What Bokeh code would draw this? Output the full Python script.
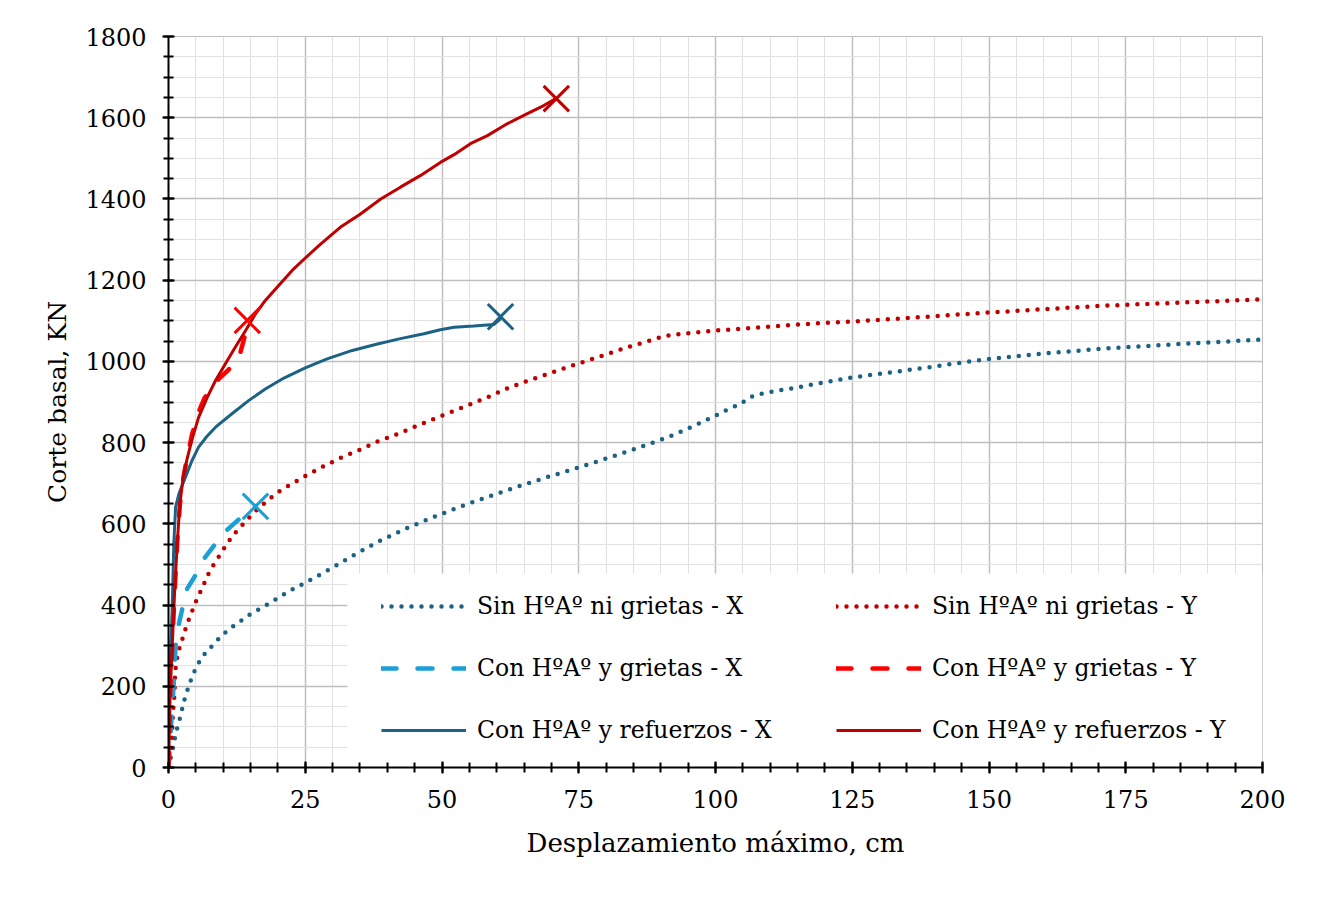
from bokeh.plotting import figure
from bokeh.models import (Range1d, SingleIntervalTicker, Legend, LegendItem,
                          BoxAnnotation)
from bokeh.embed import file_html
from bokeh.resources import INLINE

# Sin HºAº ni grietas - X  (dotted, dark blue)
sx_x = [0, 0.5, 1, 1.3, 1.8, 2.3, 2.7, 3.2, 3.8, 4.4, 5.2, 6.1, 7.4, 8.6, 9.9,
        11.3, 12.9, 14.4, 15.9, 17.5, 19.1, 20.8, 22.3, 24, 28.8, 33.6, 38.5,
        43.5, 48.7, 53.9, 59.1, 64.4, 69.7, 75, 80.3, 85.6, 89.2, 92.7, 96,
        99.5, 102.7, 104.6, 106, 107.7, 111.3, 115.1, 118.8, 124.3, 129.8,
        135.4, 140.9, 146.4, 150.2, 155.8, 161.3, 166.9, 172.5, 178, 183.6,
        189.3, 194.9, 200]
sx_y = [0, 30, 58, 83, 107, 132, 157, 180, 204, 227, 250, 272, 291, 309, 327,
        343, 358, 373, 385, 397, 410, 424, 436, 448, 483, 521, 557, 589, 618,
        645, 670, 694, 717, 739, 762, 786, 803, 821, 841, 863, 885, 895, 910,
        918, 928, 936, 946, 959, 969, 979, 989, 1000, 1006, 1014, 1021, 1027,
        1033, 1037, 1042, 1046, 1050, 1054]

# Sin HºAº ni grietas - Y  (dotted, dark red)
sy_x = [0, 0.2, 0.67, 0.8, 1.1, 1.2, 1.7, 2.3, 3.4, 4.1, 4.75, 5.5, 6.3, 7.0,
        7.9, 8.85, 9.9, 10.9, 12, 13.2, 14.5, 15.9, 17.3, 18.6, 20, 21.7, 24.9,
        28.1, 31.4, 34.9, 38.3, 41.7, 45.2, 48.6, 52, 55.5, 58.9, 62.3, 65.9,
        70, 75, 80, 83.5, 87, 90.6, 92.5, 96.2, 100, 105.4, 112.9, 120.4, 126,
        133.3, 140.8, 148.3, 155.8, 163.2, 170.7, 176.2, 182, 189.3, 194.9, 200]
sy_y = [0, 10, 83, 132, 181, 235, 281, 306, 354, 377, 401, 423, 446, 469, 492,
        512, 534, 555, 575, 593, 612, 631, 648, 663, 678, 692, 717, 740, 762,
        782, 803, 820, 840, 859, 877, 896, 915, 936, 953, 972, 995, 1017, 1033,
        1047, 1062, 1066, 1071, 1076, 1081, 1089, 1095, 1099, 1105, 1112, 1119,
        1125, 1131, 1137, 1140, 1143, 1147, 1150, 1153]

# Con HºAº y grietas - X  (dashed, light blue)
gx_x = [0, 0.5, 1, 1.3, 1.9, 2.6, 3.4, 5.1, 6.6, 8.6, 10.6, 13.2, 15.9]
gx_y = [0, 110, 215, 300, 354, 395, 440, 477, 516, 551, 584, 615, 643]

# Con HºAº y grietas - Y  (dashed, red)
gy_x = [0, 0.3, 0.7, 1.1, 1.6, 2.1, 2.8, 3.5, 4.3, 5.5, 6.6, 9.2, 11, 13, 13.9]
gy_y = [0, 180, 305, 428, 555, 650, 720, 770, 820, 875, 910, 957, 980, 1015,
        1060]

# Con HºAº y refuerzos - X  (solid, dark blue)
rx_x = [0, 0, 0.3, 0.67, 0.97, 1.3, 1.9, 3.1, 4.3, 5.5, 7, 8.6, 11.6, 14.7,
        17.7, 21.1, 25, 29, 33.6, 38.2, 42.4, 46.7, 49.7, 52.2, 55.8, 59.5, 60.7]
rx_y = [0, 120, 263, 387, 551, 641, 674, 715, 756, 789, 815, 838, 871, 904,
        932, 959, 984, 1006, 1027, 1043, 1056, 1068, 1078, 1084, 1087, 1091,
        1105]

# Con HºAº y refuerzos - Y  (solid, dark red)
ry_x = [0, 0.3, 0.7, 1.1, 1.6, 2.07, 2.7, 3.4, 4.3, 5.5, 7.1, 8.6, 10.4, 12.2,
        14.1, 15.9, 17.7, 19.9, 22.9, 25.2, 27.8, 31.4, 35.1, 38.8, 42.4, 46.1,
        49.7, 52.2, 55.2, 58.3, 61.9, 65.6, 68.6, 70.8]
ry_y = [0, 181, 305, 428, 551, 649, 715, 760, 808, 862, 912, 953, 994, 1035,
        1076, 1117, 1150, 1183, 1228, 1257, 1289, 1330, 1363, 1400, 1429, 1458,
        1490, 1509, 1536, 1556, 1585, 1610, 1630, 1647]

# failure points (X markers)
fail_x = [15.9, 14.4, 60.7, 70.9]
fail_y = [643, 1101, 1110, 1647]
fail_c = ["#1a9fd6", "#ff0000", "#1b6285", "#c00000"]

DARK_BLUE = "#1b6285"
LIGHT_BLUE = "#1a9fd6"
DARK_RED = "#c00000"
RED = "#ff0000"
FONT = "DejaVu Serif"

p = figure(frame_width=1094, frame_height=731, output_backend="svg",
           toolbar_location=None, x_range=Range1d(0, 200),
           y_range=Range1d(0, 1800), min_border_left=168, min_border_top=36,
           min_border_right=38, min_border_bottom=100)
p.outline_line_color = "#bfbfbf"
p.background_fill_color = "white"

p.xaxis.ticker = SingleIntervalTicker(interval=25, num_minor_ticks=5)
p.yaxis.ticker = SingleIntervalTicker(interval=200, num_minor_ticks=4)
for ax in (p.xaxis, p.yaxis):
    ax.axis_line_color = "black"
    ax.axis_line_width = 2
    ax.major_tick_line_color = "black"
    ax.major_tick_line_width = 2
    ax.minor_tick_line_color = "black"
    ax.minor_tick_line_width = 2
    ax.major_tick_in = 6
    ax.major_tick_out = 6
    ax.minor_tick_in = 5
    ax.minor_tick_out = 5
    ax.major_label_text_font = FONT
    ax.major_label_text_font_size = "24px"
    ax.major_label_text_color = "black"
    ax.axis_label_text_font = FONT
    ax.axis_label_text_font_style = "normal"
    ax.axis_label_text_color = "black"
p.xaxis.axis_label_text_font_size = "26px"
p.yaxis.axis_label_text_font_size = "25px"
p.xaxis.major_label_standoff = 16
p.yaxis.major_label_standoff = 16
p.xaxis.axis_label = "Desplazamiento máximo, cm"
p.yaxis.axis_label = "Corte basal, KN"
p.xaxis.axis_label_standoff = 17
p.yaxis.axis_label_standoff = 10

for g in (p.xgrid, p.ygrid):
    g.grid_line_color = "#bfbfbf"
    g.grid_line_width = 1.5
    g.minor_grid_line_color = "#e1e1e1"
    g.minor_grid_line_width = 1

# white legend background
p.add_layout(BoxAnnotation(left=32.7, right=200, bottom=0, top=478,
                           fill_color="white", fill_alpha=1, line_alpha=0,
                           level="underlay"))

r_sx = p.line(sx_x, sx_y, color=DARK_BLUE, line_width=4.5, line_dash="0 10",
              line_cap="round")
r_sy = p.line(sy_x, sy_y, color=DARK_RED, line_width=4.5, line_dash="0 10",
              line_cap="round")
r_gx = p.line(gx_x, gx_y, color=LIGHT_BLUE, line_width=4.5, line_dash="15 21",
              line_cap="round")
r_gy = p.line(gy_x, gy_y, color=RED, line_width=4.5, line_dash="15 21",
              line_cap="round")
r_rx = p.line(rx_x, rx_y, color=DARK_BLUE, line_width=3)
r_ry = p.line(ry_x, ry_y, color=DARK_RED, line_width=3)
p.scatter(fail_x, fail_y, marker="x", size=36, line_width=3, color=fail_c)

legend_style = dict(background_fill_alpha=0, border_line_alpha=0,
                    label_text_font=FONT, label_text_font_size="23.5px",
                    label_text_color="black",
                    glyph_width=85, glyph_height=26, label_height=26,
                    spacing=34, padding=10, label_standoff=11, margin=0)
leg_x = Legend(items=[LegendItem(label="Sin HºAº ni grietas - X", renderers=[r_sx]),
                      LegendItem(label="Con HºAº y grietas - X", renderers=[r_gx]),
                      LegendItem(label="Con HºAº y refuerzos - X", renderers=[r_rx])],
               location=(203, 13), **legend_style)
leg_y = Legend(items=[LegendItem(label="Sin HºAº ni grietas - Y", renderers=[r_sy]),
                      LegendItem(label="Con HºAº y grietas - Y", renderers=[r_gy]),
                      LegendItem(label="Con HºAº y refuerzos - Y", renderers=[r_ry])],
               location=(658, 13), **legend_style)
p.add_layout(leg_x, "center")
p.add_layout(leg_y, "center")

open("out.html", "w").write(file_html(p, INLINE))
